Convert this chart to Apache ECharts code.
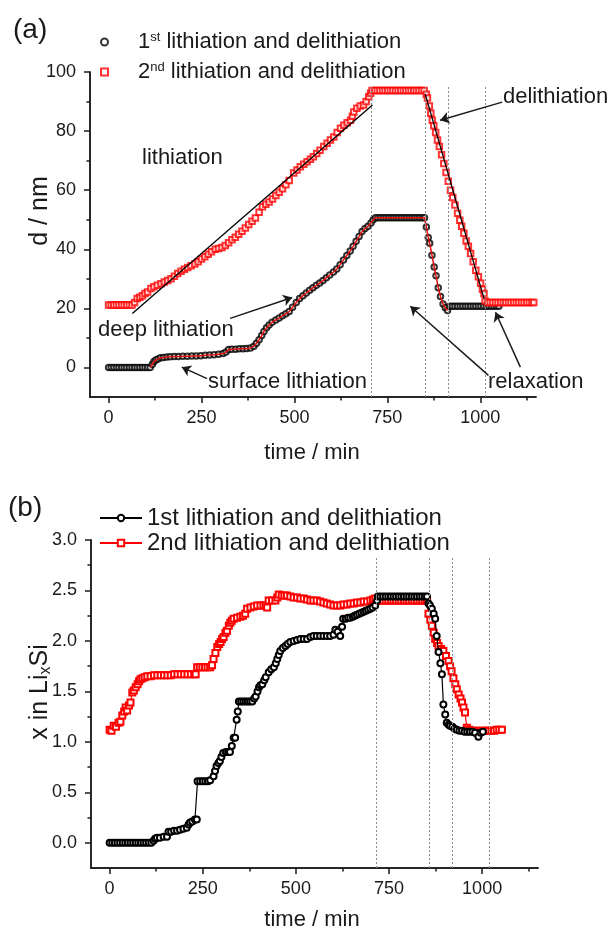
<!DOCTYPE html>
<html>
<head>
<meta charset="utf-8">
<script src="https://cdn.jsdelivr.net/npm/echarts@6/dist/echarts.min.js"></script>
<style>html,body{margin:0;padding:0;background:#fff;}#c{width:611px;height:932px;}</style>
</head>
<body>
<div id="c"></div>
<script>
// ---------- data (time / min, value) ----------
const xMajor = [0, 250, 500, 750, 1000];
const xMinor = [125, 375, 625, 875, 1125];
const yTopMajor = [0, 20, 40, 60, 80, 100];
const yTopMinor = [10, 30, 50, 70, 90];
const yBotMajor = [0, 0.5, 1.0, 1.5, 2.0, 2.5, 3.0];
const yBotMinor = [0.25, 0.75, 1.25, 1.75, 2.25, 2.75];

const legendBot = ['1st lithiation and delithiation', '2nd lithiation and delithiation'];

// (a) d / nm, 1st cycle
const s1Top = [[0,0],[7,0],[14,0],[21,0],[28,0],[35,0],[42,0],[49,0],[56,0],[63,0],[70,0],[77,0],[84,0],[91,0],[98,0],[105,0],[112,0],
[118,1.1],[122,2.0],[127,2.5],[133,2.9],[140,3.3],[148,3.4],[157,3.5],[166,3.6],[177,3.7],[188,3.7],[200,3.8],[212,3.8],[224,3.9],[236,3.9],[248,4.0],[260,4.1],[272,4.2],[284,4.3],[296,4.5],[308,4.7],[316,5.2],[323,6.1],[332,6.2],[342,6.2],[352,6.3],[362,6.3],[372,6.4],[382,6.6],[391,7.2],[398,8.2],[405,9.4],[412,10.8],[418,12.2],[425,13.4],[432,14.4],[440,15.3],[450,16.1],[459,16.7],[468,17.5],[477,18.2],[486,18.9],[495,20.4],[505,22.0],[514,23.3],[523,24.3],[532,25.2],[541,26.1],[550,27.0],[559,27.8],[568,28.6],[577,29.4],[586,30.4],[595,31.3],[605,32.3],[614,33.3],[623,34.8],[632,36.4],[641,37.9],[650,39.4],[658,41.0],[666,42.7],[674,44.3],[682,46.0],[690,47.0],[698,47.8],[706,48.9],[712,50.0],[718,50.7],
[725,50.7],[732,50.7],[739,50.7],[746,50.7],[753,50.7],[760,50.7],[767,50.7],[774,50.7],[781,50.7],[788,50.7],[795,50.7],[802,50.7],[809,50.7],[816,50.7],[823,50.7],[830,50.7],[837,50.7],[844,50.7],[850,50.7],
[855,47.5],[860,44.0],[864,42.0],[870,38.0],[876,34.0],[881,31.0],[887,27.0],[893,24.0],[900,21.5],[906,20.2],[912,19.3],
[918,20.7],[925,20.7],[932,20.7],[939,20.7],[946,20.7],[953,20.7],[960,20.7],[967,20.7],[974,20.7],[981,20.7],[988,20.7],[995,20.7],[1002,20.7],[1009,20.7],[1016,20.7],[1023,20.7],[1030,20.7],[1037,20.7],[1044,20.7],[1050,20.7]];

// (a) d / nm, 2nd cycle
const s2Top = [[0,21.1],[7,21.1],[14,21.1],[21,21.1],[28,21.1],[35,21.1],[42,21.1],[49,21.1],[56,21.1],[63,21.1],
[70,22.0],[77,23.3],[84,23.8],[91,24.3],[98,25.0],[105,25.5],[114,26.7],[122,27.3],[131,27.8],[141,28.3],[150,28.9],[159,29.4],[168,30.0],[177,30.9],[186,31.8],[195,32.6],[204,33.2],[213,33.8],[222,34.4],[232,35.0],[241,35.8],[250,36.7],[259,37.5],[268,38.3],[277,39.2],[287,40.0],[296,40.3],[305,40.6],[314,41.3],[323,42.2],[332,43.2],[341,44.1],[350,45.1],[359,46.1],[368,47.2],[377,48.4],[386,49.5],[395,50.6],[405,52.5],[414,54.4],[423,55.2],[432,56.0],[441,57.0],[450,58.2],[459,59.3],[468,60.5],[477,61.8],[486,63.3],[498,65.8],[507,66.8],[516,67.9],[525,68.8],[534,69.6],[543,70.5],[551,71.3],[560,72.4],[569,73.5],[579,74.8],[588,75.9],[597,77.0],[606,78.0],[615,79.5],[624,81.0],[633,82.0],[642,82.8],[651,83.7],[656,85.0],[660,86.5],[668,87.7],[677,88.5],[686,88.8],[693,90.0],[700,91.6],[705,92.8],[709,93.7],
[716,93.7],[723,93.7],[730,93.7],[737,93.7],[744,93.7],[751,93.7],[758,93.7],[765,93.7],[772,93.7],[779,93.7],[786,93.7],[793,93.7],[800,93.7],[807,93.7],[814,93.7],[821,93.7],[828,93.7],[835,93.7],[842,93.7],[849,93.7],
[855,92.5],[858,91.2],[863,88.5],[867,86.0],[871,83.7],[875,81.8],[880,79.5],[885,77.0],[890,74.8],[896,72.0],[902,69.0],[908,66.0],[914,63.0],[920,60.0],[926,57.5],[932,55.0],[939,52.2],[945,49.8],[950,47.8],[956,45.4],[962,42.8],[968,41.0],[974,38.6],[981,35.8],[988,32.9],[995,30.7],[1001,28.5],[1006,26.5],[1010,25.0],[1013,22.5],
[1020,22],[1027,22],[1034,22],[1041,22],[1048,22],[1055,22],[1062,22],[1069,22],[1076,22],[1083,22],[1090,22],[1097,22],[1104,22],[1111,22],[1118,22],[1125,22],[1132,22],[1139,22],[1144,22]];

// linear guides in (a)
const fitTopLith = [[64,18.3],[710,88.8]];
const fitTopDelith = [[852,92.5],[1010,23.4]];

// (b) x in LixSi, 1st cycle
const s1Bot = [[0,0],[7,0],[14,0],[21,0],[28,0],[35,0],[42,0],[49,0],[56,0],[63,0],[70,0],[77,0],[84,0],[91,0],[98,0],[105,0],[112,0],
[118,0.02],[122,0.04],[127,0.05],[135,0.05],[145,0.06],[154,0.06],[158,0.11],[165,0.11],[173,0.12],[181,0.12],[189,0.13],[198,0.14],[207,0.15],[212,0.18],[216,0.20],[222,0.21],[229,0.23],[234,0.23],[236,0.61],[243,0.61],[250,0.61],[257,0.61],[264,0.61],[270,0.62],[279,0.66],[283,0.71],[287,0.76],[292,0.79],[296,0.81],[300,0.85],[305,0.89],[312,0.90],[318,0.90],[323,0.90],[328,0.96],[333,1.04],[337,1.04],[341,1.22],[344,1.30],[347,1.40],[353,1.40],[359,1.40],[365,1.40],[371,1.40],[377,1.40],[383,1.40],[388,1.43],[392,1.45],[397,1.50],[401,1.54],[405,1.56],[410,1.57],[415,1.61],[419,1.64],[427,1.69],[434,1.72],[441,1.74],[446,1.78],[450,1.82],[454,1.86],[458,1.90],[465,1.93],[472,1.95],[478,1.97],[485,1.99],[494,2.00],[503,2.01],[512,2.02],[521,2.02],[530,2.02],[539,2.04],[547,2.05],[556,2.05],[565,2.05],[574,2.05],[583,2.05],[592,2.05],[601,2.06],[606,2.11],[612,2.09],[619,2.05],[624,2.14],[627,2.22],[634,2.22],[640,2.23],[646,2.23],[653,2.24],[658,2.25],[664,2.26],[670,2.27],[676,2.28],[682,2.29],[688,2.30],[694,2.31],[700,2.32],[706,2.33],[713,2.35],[718,2.40],[720,2.44],
[727,2.44],[734,2.44],[741,2.44],[748,2.44],[755,2.44],[762,2.44],[769,2.44],[776,2.44],[783,2.44],[790,2.44],[797,2.44],[804,2.44],[811,2.44],[818,2.44],[825,2.44],[832,2.44],[839,2.44],[846,2.44],[852,2.44],
[856,2.37],[860,2.35],[865,2.32],[870,2.27],[874,2.22],[878,2.05],[883,1.89],[888,1.78],[892,1.67],[896,1.37],[901,1.27],[905,1.19],[910,1.17],[914,1.16],[920,1.15],[926,1.13],[932,1.12],[939,1.11],[946,1.11],[953,1.10],[960,1.10],[967,1.10],[974,1.10],[981,1.09],[990,1.05],[996,1.09],[1002,1.10]];

// (b) x in LixSi, 2nd cycle
const s2Bot = [[0,1.12],[5,1.11],[11,1.16],[17,1.15],[24,1.19],[29,1.20],[34,1.26],[39,1.30],[43,1.34],[47,1.31],[52,1.36],[56,1.39],[61,1.49],[65,1.51],[70,1.54],[75,1.57],[79,1.60],[83,1.62],[88,1.63],[94,1.64],[101,1.65],[110,1.65],[119,1.66],[128,1.66],[137,1.66],[146,1.66],[155,1.66],[164,1.66],[173,1.67],[182,1.67],[191,1.67],[200,1.67],[209,1.67],[218,1.67],[227,1.67],[231,1.67],[235,1.74],[242,1.74],[249,1.74],[256,1.74],[263,1.74],[270,1.74],[275,1.76],[279,1.82],[284,1.88],[289,1.94],[294,1.97],[298,1.99],[302,2.02],[306,2.04],[311,2.08],[315,2.10],[320,2.15],[324,2.18],[328,2.20],[333,2.22],[342,2.23],[351,2.24],[358,2.25],[364,2.27],[369,2.32],[378,2.33],[387,2.34],[396,2.35],[405,2.35],[413,2.35],[419,2.35],[423,2.33],[427,2.40],[436,2.40],[445,2.40],[450,2.43],[454,2.46],[462,2.45],[469,2.45],[476,2.45],[485,2.44],[494,2.43],[503,2.43],[512,2.42],[521,2.42],[530,2.41],[539,2.40],[547,2.40],[556,2.40],[565,2.39],[574,2.38],[583,2.37],[592,2.36],[601,2.35],[610,2.35],[619,2.35],[628,2.36],[637,2.36],[646,2.37],[655,2.37],[664,2.38],[673,2.38],[682,2.39],[691,2.39],[700,2.40],[707,2.41],[713,2.42],
[720,2.40],[727,2.40],[734,2.40],[741,2.40],[748,2.40],[755,2.40],[762,2.40],[769,2.40],[776,2.40],[783,2.40],[790,2.40],[797,2.40],[804,2.40],[811,2.40],[818,2.40],[825,2.40],[832,2.40],[839,2.40],[846,2.40],[852,2.40],
[856,2.27],[861,2.21],[865,2.15],[870,2.08],[874,2.02],[879,1.98],[883,1.95],[890,1.92],[896,1.90],[903,1.85],[910,1.80],[914,1.75],[918,1.70],[923,1.63],[928,1.57],[932,1.52],[937,1.47],[942,1.43],[946,1.39],[950,1.34],[954,1.29],[959,1.14],[965,1.12],[971,1.11],[976,1.11],[983,1.11],[990,1.10],[997,1.11],[1004,1.11],[1011,1.11],[1018,1.11],[1025,1.11],[1032,1.11],[1039,1.12],[1046,1.12],[1053,1.12]];

// vertical dotted separators (time / min)
const vlinesTop = [708, 851, 913, 1013];
const vlinesBot = [716, 858, 920, 1019];

// annotation arrows in (a), data coords [from, to]
const arrowsTop = [
  [[1059, 89.8], [892, 83.7]],
  [[327, 16.6], [494, 23.7]],
  [[265, -3.8], [197, 0.1]],
  [[1022, -2.7], [812, 20.7]],
  [[1108, 0.1], [1041, 18.7]]
];

// ---------- chart ----------
const FONT = '"Liberation Sans", Arial, Helvetica, sans-serif';
const INK = '#1a1a1a';
const RED = '#ff0000';

function axisCommon(gi, isX, min, max, major, minor, isMinor, fmt) {
  return {
    type: 'value', gridIndex: gi, min: min, max: max,
    position: isX ? 'bottom' : 'left', offset: 0,
    axisLine: { show: true, onZero: false, lineStyle: { color: INK, width: 1.5 } },
    axisTick: { show: true, inside: false, length: isMinor ? 3.5 : 6, customValues: isMinor ? minor : major, lineStyle: { color: INK, width: 1.5 } },
    axisLabel: { show: !isMinor, customValues: major, formatter: fmt, margin: isX ? 12 : 14, fontSize: 18, color: INK, fontFamily: FONT },
    splitLine: { show: false }
  };
}
const fmtInt = v => String(Math.round(v));
const fmt1 = v => Number(v).toFixed(1);

const chart = echarts.init(document.getElementById('c'), null, { renderer: 'canvas' });

const trend1st = s1Top.filter(p => (p[0] >= 112 && p[0] <= 718) || (p[0] >= 850 && p[0] <= 912));

const vlineItems = (xs, y0, y1) => xs.map(x => [
  { coord: [x, y0], lineStyle: { type: [2, 2], color: '#8a8a8a', width: 1 }, symbol: 'none' },
  { coord: [x, y1], symbol: 'none' }
]);

const arrowItems = arrowsTop.map(a => [
  { coord: a[0], lineStyle: { type: 'solid', color: INK, width: 1.5 } },
  { coord: a[1] }
]);

const option = {
  animation: false,
  backgroundColor: '#fff',
  grid: [
    { left: 90, top: 72, width: 446, height: 325 },
    { left: 91, top: 540, width: 447, height: 328 }
  ],
  xAxis: [
    axisCommon(0, true, -50, 1150, xMajor, xMinor, false, fmtInt),
    axisCommon(0, true, -50, 1150, xMajor, xMinor, true, fmtInt),
    axisCommon(1, true, -50, 1150, xMajor, xMinor, false, fmtInt),
    axisCommon(1, true, -50, 1150, xMajor, xMinor, true, fmtInt)
  ],
  yAxis: [
    axisCommon(0, false, -10, 100, yTopMajor, yTopMinor, false, fmtInt),
    axisCommon(0, false, -10, 100, yTopMajor, yTopMinor, true, fmtInt),
    axisCommon(1, false, -0.25, 3.0, yBotMajor, yBotMinor, false, fmt1),
    axisCommon(1, false, -0.25, 3.0, yBotMajor, yBotMinor, true, fmt1)
  ],
  legend: [
    {
      data: ['top1', 'top2'], orient: 'vertical', left: 95, top: 26,
      itemWidth: 7, itemHeight: 7, itemGap: 8, selectedMode: false,
      formatter: function (name) {
        return name === 'top1'
          ? '{n|1}{s|st}{n| lithiation and delithiation}'
          : '{n|2}{s|nd}{n| lithiation and delithiation}';
      },
      textStyle: {
        padding: [0, 0, 0, 25], color: INK, fontFamily: FONT,
        rich: {
          n: { fontSize: 22, lineHeight: 22, fontFamily: FONT, color: INK },
          s: { fontSize: 13, lineHeight: 13, verticalAlign: 'top', fontFamily: FONT, color: INK }
        }
      }
    },
    {
      data: legendBot, orient: 'vertical', left: 94, top: 501,
      itemWidth: 42, itemHeight: 8, itemGap: 1, selectedMode: false,
      textStyle: { fontSize: 24, lineHeight: 24, color: INK, fontFamily: FONT }
    }
  ],
  series: [
    // ---- (a) ----
    {
      name: 'top1', type: 'scatter', xAxisIndex: 0, yAxisIndex: 0, data: s1Top,
      symbol: 'emptyCircle', symbolSize: 5.5,
      itemStyle: { color: '#000', borderColor: '#000', borderWidth: 1.2 }, z: 3, silent: true
    },
    {
      name: 'top2', type: 'scatter', xAxisIndex: 0, yAxisIndex: 0, data: s2Top,
      symbol: 'emptyRect', symbolSize: 5.5,
      itemStyle: { color: RED, borderColor: RED, borderWidth: 1.2 }, z: 3, silent: true
    },
    {
      name: 'trend1', type: 'line', xAxisIndex: 0, yAxisIndex: 0, data: trend1st,
      showSymbol: false, symbol: 'none', lineStyle: { color: '#e01010', width: 1.5 }, z: 4, silent: true
    },
    {
      name: 'fitLith', type: 'line', xAxisIndex: 0, yAxisIndex: 0, data: fitTopLith,
      showSymbol: false, symbol: 'none', lineStyle: { color: '#000', width: 1.3 }, z: 5, silent: true,
      markLine: {
        silent: true, symbol: ['none', 'arrow'], symbolSize: 9, label: { show: false },
        animation: false, emphasis: { disabled: true },
        data: vlineItems(vlinesTop, -10, 95).concat(arrowItems)
      }
    },
    {
      name: 'fitDelith', type: 'line', xAxisIndex: 0, yAxisIndex: 0, data: fitTopDelith,
      showSymbol: false, symbol: 'none', lineStyle: { color: '#000', width: 1.3 }, z: 5, silent: true
    },
    // ---- (b) ----
    {
      name: legendBot[0], type: 'line', xAxisIndex: 2, yAxisIndex: 2, data: s1Bot,
      symbol: 'emptyCircle', symbolSize: 6, showSymbol: true, showAllSymbol: true,
      lineStyle: { color: '#000', width: 1.2 },
      itemStyle: { color: '#000', borderColor: '#000', borderWidth: 1.2 }, z: 3, silent: true,
      markLine: {
        silent: true, symbol: 'none', label: { show: false }, animation: false,
        data: vlineItems(vlinesBot, -0.25, 2.84)
      }
    },
    {
      name: legendBot[1], type: 'line', xAxisIndex: 2, yAxisIndex: 2, data: s2Bot,
      symbol: 'emptyRect', symbolSize: 6, showSymbol: true, showAllSymbol: true,
      lineStyle: { color: RED, width: 1.2 },
      itemStyle: { color: RED, borderColor: RED, borderWidth: 1.2 }, z: 2, silent: true
    }
  ],
  graphic: [
    { type: 'text', left: 13, top: 16, style: { text: '(a)', fontSize: 28, fontFamily: FONT, fill: INK } },
    { type: 'text', left: 8, top: 494, style: { text: '(b)', fontSize: 28, fontFamily: FONT, fill: INK } },
    { type: 'text', x: 40, y: 211, rotation: Math.PI / 2, style: { text: 'd / nm', fontSize: 25, fontFamily: FONT, fill: INK, align: 'center', verticalAlign: 'middle' } },
    { type: 'text', x: 40, y: 692, rotation: Math.PI / 2, style: {
        text: '{n|x in Li}{b|x}{n|Si}', align: 'center', verticalAlign: 'middle', fill: INK,
        rich: { n: { fontSize: 25, lineHeight: 28, fontFamily: FONT, fill: INK }, b: { fontSize: 16, lineHeight: 28, verticalAlign: 'bottom', fontFamily: FONT, fill: INK } } } },
    { type: 'text', x: 312, y: 453, style: { text: 'time / min', fontSize: 22, fontFamily: FONT, fill: INK, align: 'center', verticalAlign: 'middle' } },
    { type: 'text', x: 312, y: 920, style: { text: 'time / min', fontSize: 22, fontFamily: FONT, fill: INK, align: 'center', verticalAlign: 'middle' } },
    { type: 'text', x: 142, y: 158, style: { text: 'lithiation', fontSize: 22, fontFamily: FONT, fill: INK, verticalAlign: 'middle' } },
    { type: 'text', x: 503, y: 97, style: { text: 'delithiation', fontSize: 22, fontFamily: FONT, fill: INK, verticalAlign: 'middle' } },
    { type: 'text', x: 98, y: 330, style: { text: 'deep lithiation', fontSize: 22, fontFamily: FONT, fill: INK, verticalAlign: 'middle' } },
    { type: 'text', x: 208, y: 382, style: { text: 'surface lithiation', fontSize: 22, fontFamily: FONT, fill: INK, verticalAlign: 'middle' } },
    { type: 'text', x: 488, y: 382, style: { text: 'relaxation', fontSize: 22, fontFamily: FONT, fill: INK, verticalAlign: 'middle' } }
  ]
};
chart.setOption(option);
</script>
</body>
</html>
